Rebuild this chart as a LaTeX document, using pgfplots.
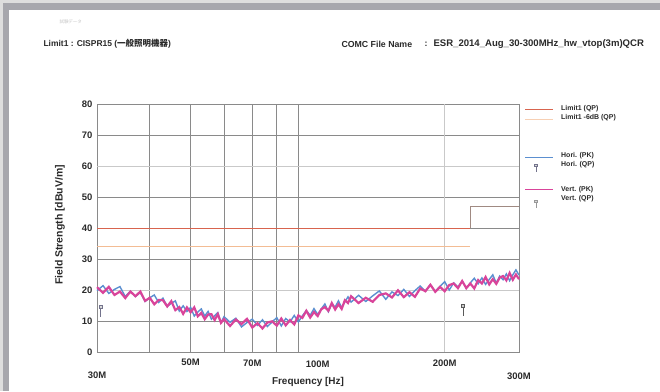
\documentclass[border=0pt]{standalone}
\usepackage{fontspec}
\setmainfont{Liberation Sans}
\newfontfamily\cjk{Noto Sans CJK JP}
\usepackage{pgfplots}
\pgfplotsset{compat=1.18}

\definecolor{limred}{HTML}{D8644E}
\definecolor{limstep}{HTML}{A08A82}
\definecolor{limorange}{HTML}{F3BC94}
\definecolor{horiblue}{HTML}{5B8FD0}
\definecolor{vertpink}{HTML}{D9449A}
\definecolor{framelight}{HTML}{DEDEDE}
\definecolor{framedark}{HTML}{A7A7AD}
\definecolor{griddark}{HTML}{8A8A8A}
\definecolor{gridlight}{HTML}{C9C9C9}
\definecolor{txt}{HTML}{2A2A2A}

\tikzset{lbl/.style={font=\fontsize{9.5}{11}\selectfont\bfseries, text=txt}}

\pgfdeclareplotmark{qp}{%
  \pgfpathmoveto{\pgfqpoint{0pt}{0pt}}\pgfpathlineto{\pgfqpoint{0pt}{-9pt}}\pgfusepathqstroke
  \pgfpathrectangle{\pgfqpoint{-1.8pt}{0pt}}{\pgfqpoint{3.6pt}{3pt}}\pgfusepathqfillstroke}

\pgfplotstableread{
f v
30 20.9
31 19.1
32 21.0
33 18.4
34 19.5
35 17.4
36 19.5
37 18.0
38 19.5
39 16.5
40 17.5
41 15.4
42 16.8
43 16.7
44 14.7
45 16.4
46 13.5
47 14.5
48 12.3
49 14.4
50 12.8
51 14.4
52 11.5
53 12.6
54 10.6
55 12.1
56 12.2
57 10.3
58 12.2
59 9.4
60 10.6
62 8.4
64 10.5
66 9.0
68 10.7
70 7.9
72 9.3
74 7.6
76 9.5
78 9.9
80 8.5
82 10.8
84 8.6
86 10.3
88 8.9
90 11.8
92 11.0
94 13.3
96 11.1
98 12.9
100 11.6
102 13.8
104 14.5
106 13.3
108 15.8
110 13.7
112 15.4
114 13.9
116 16.7
118 15.8
120 18.0
125 15.8
130 17.5
135 16.2
140 18.4
145 18.9
150 17.6
155 19.9
160 17.7
165 19.3
170 17.8
175 20.5
180 19.6
185 21.7
190 19.4
195 21.0
200 19.6
205 21.6
210 22.1
215 20.6
220 22.9
225 20.6
230 22.1
235 20.5
240 23.2
245 22.1
250 24.2
255 21.8
260 23.5
265 22.0
270 24.0
275 24.5
280 23.1
285 25.5
290 23.3
295 25.0
300 23.5
}\vertpk

\pgfplotstableread{
f v
30 19.8
31 21.4
32 18.9
33 20.2
34 21.1
35 17.9
36 19.6
37 17.9
38 19.2
39 16.3
40 17.5
41 18.4
42 16.0
43 17.4
44 14.7
45 15.7
46 16.5
47 13.2
48 14.9
49 13.1
50 14.4
51 11.6
52 12.9
53 13.9
54 11.6
55 13.1
56 10.6
57 11.7
58 12.7
59 9.5
60 11.4
62 9.6
64 10.9
66 8.1
68 9.5
70 10.6
72 8.6
74 10.4
76 8.2
78 9.7
80 11.1
82 8.4
84 10.8
86 9.7
88 11.8
90 9.7
92 11.7
94 13.4
96 11.8
98 14.0
100 12.1
102 13.9
104 15.5
106 13.0
108 15.5
110 14.5
112 16.5
114 14.3
116 16.2
118 17.8
120 16.1
125 18.3
130 16.3
135 18.1
140 19.7
145 17.0
150 19.4
155 18.2
160 20.2
165 17.9
170 19.8
175 21.3
180 19.6
185 21.6
190 19.6
195 21.2
200 22.7
205 20.0
210 22.3
215 21.0
220 22.9
225 20.6
230 22.3
235 23.8
240 22.0
245 23.9
250 21.8
255 23.4
260 24.9
265 22.2
270 24.5
275 23.3
280 25.2
285 23.0
290 24.9
295 26.5
300 24.8
}\horipk

\begin{document}
\begin{tikzpicture}[x=1bp,y=1bp]
\fill[white] (0,0) rectangle (660,391);
\fill[framelight] (0,388) rectangle (660,391);
\fill[framelight] (0,0) rectangle (3,391);
\fill[framedark] (3,381) rectangle (660,388);
\fill[framedark] (3,0) rectangle (9,388);
\useasboundingbox (0,0) rectangle (660,391);

% header
\node[anchor=west, text=gray!45, font=\fontsize{4.5}{5}\selectfont\cjk] at (56,369) {試験データ};
\node[anchor=west, text=txt, font=\fontsize{8.5}{10}\selectfont\bfseries] at (40,347) {Limit1 : CISPR15 ({\cjk 一般照明機器})};
\node[anchor=west, text=txt, font=\fontsize{8.8}{10}\selectfont\bfseries] at (338,347) {COMC File Name};
\node[anchor=west, text=txt, font=\fontsize{8.8}{10}\selectfont\bfseries] at (421,347) {:};
\node[anchor=west, text=txt, font=\fontsize{9.6}{10}\selectfont\bfseries] at (430,347) {ESR\_2014\_Aug\_30-300MHz\_hw\_vtop(3m)QCR};

\begin{axis}[
  at={(97bp,39bp)}, anchor=south west,
  width=422bp, height=248bp, scale only axis,
  xmode=log, xmin=30, xmax=300, ymin=0, ymax=80,
  xtick={40,50,60,70,80,90}, xticklabels={},
  extra x ticks={200}, extra x tick labels={},
  extra x tick style={grid=major, major grid style={gridlight, line width=0.7pt}},
  ytick={0,10,30,40,50,70,80},
  extra y ticks={20,60},
  extra y tick style={grid=major, major grid style={gridlight, line width=0.7pt}},
  xmajorgrids, ymajorgrids,
  major grid style={griddark, line width=0.9pt},
  major tick length=0pt, minor tick length=0pt,
  minor x tick num=0,
  axis line style={griddark, line width=0.8pt},
  yticklabel style={font=\fontsize{9.5}{11}\selectfont\bfseries, text=txt, xshift=-1bp},
  /pgf/number format/assume math mode=true,
  clip=false,
]
\addplot[limorange, line width=0.9pt] coordinates {(30,34) (230,34)};
\addplot[limred, line width=0.9pt] coordinates {(30,40) (230,40)};
\addplot[limstep, line width=0.9pt] coordinates {(230,40) (230,47) (300,47)};
\addplot[horiblue, line width=1.4pt] table[x=f, y=v] {\horipk};
\addplot[vertpink, line width=2.2pt] table[x=f, y=v] {\vertpk};
\addplot[only marks, mark=qp, mark options={draw=gray!90!blue, fill=gray!30, line width=0.6pt}] coordinates {(30.6,14.2)};
\addplot[only marks, mark=qp, mark options={draw=gray!70!black, fill=gray!40, line width=0.8pt}] coordinates {(221,14.5)};

\node[lbl] at (axis cs:50,0) [yshift=-10bp] {50M};
\node[lbl] at (axis cs:70,0) [yshift=-11bp] {70M};
\node[lbl] at (axis cs:100,0) [yshift=-12bp] {100M};
\node[lbl] at (axis cs:200,0) [yshift=-11bp] {200M};
\node[lbl] at (axis cs:30,0) [yshift=-23bp] {30M};
\node[lbl] at (axis cs:300,0) [yshift=-24bp] {300M};
\end{axis}

% axis labels
\node[text=txt, font=\fontsize{10}{11}\selectfont\bfseries] at (308,9) {Frequency [Hz]};
\node[rotate=90, text=txt, font=\fontsize{10.5}{11}\selectfont\bfseries] at (60,166) {Field Strength [dBuV/m]};

% legend
\draw[limred, line width=0.9pt] (525,282) -- (553,282);
\draw[limorange!70, line width=0.7pt] (525,272) -- (553,272);
\node[anchor=west, text=txt, font=\fontsize{7}{9}\selectfont\bfseries, align=left, inner sep=0pt] at (561,278) {Limit1 (QP)\\Limit1 -6dB (QP)};
\draw[horiblue, line width=0.9pt] (525,234) -- (553,234);
\draw[gray!90!blue, fill=gray!30, line width=0.5pt] (536,225) -- (536,219) (534.5,225) rectangle (537.5,227);
\node[anchor=west, text=txt, font=\fontsize{7}{9}\selectfont\bfseries, align=left, inner sep=0pt] at (561,231) {Hori. (PK)\\Hori. (QP)};
\draw[vertpink, line width=0.9pt] (525,202) -- (553,202);
\draw[gray!80, fill=gray!30, line width=0.5pt] (536,189) -- (536,183) (534.5,189) rectangle (537.5,191);
\node[anchor=west, text=txt, font=\fontsize{7}{9}\selectfont\bfseries, align=left, inner sep=0pt] at (561,197) {Vert. (PK)\\Vert. (QP)};
\end{tikzpicture}
\end{document}
